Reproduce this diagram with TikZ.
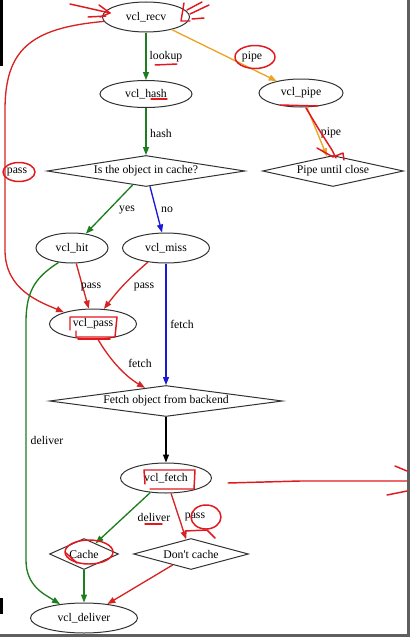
\documentclass[tikz,border=0pt]{standalone}
\usepackage{fontspec}
\setmainfont{Liberation Serif}[Ligatures=TeXOff]
\usetikzlibrary{shapes.geometric,arrows.meta}
\definecolor{cgreen}{RGB}{30,125,30}
\definecolor{corange}{RGB}{235,165,35}
\definecolor{cblue}{RGB}{25,25,215}
\definecolor{cred}{RGB}{215,35,35}
\definecolor{cannot}{RGB}{225,25,30}
\definecolor{outl}{RGB}{50,50,50}
\definecolor{framec}{RGB}{95,95,95}
\begin{document}
\begin{tikzpicture}[x=0.75pt,y=-0.75pt, font=\fontsize{8.8}{10}\selectfont,
  el/.style 2 args={draw=outl, line width=0.75pt, ellipse, inner sep=0pt,
     minimum width=#1*0.75pt, minimum height=#2*0.75pt},
  dm/.style n args={3}{draw=outl, line width=0.75pt, diamond, inner sep=0pt, aspect=#3,
     minimum width=#1*0.75pt, minimum height=#2*0.75pt},
  edge/.style={line width=1pt, -{Triangle[length=6pt,width=4.5pt]}},
  lbl/.style={inner sep=0pt},
  scrib/.style={cannot, line width=1.1pt, line cap=round, line join=round}]
\useasboundingbox (0,0) rectangle (412,639);
% frame
\fill[black] (0,0) rectangle (2.5,66);
\fill[black] (0,598) rectangle (3,614);
\draw[framec, line width=2pt] (408.5,0) -- (408.5,637);
\draw[framec, line width=2pt] (0,635.5) -- (409.5,635.5);

% nodes
\node[el={87}{30}] (recv) at (146,17) {vcl\_recv};
\node[el={92}{27}] (hash) at (146,94) {vcl\_hash};
\node[el={84}{28}] (pipe) at (301,93) {vcl\_pipe};
\node[dm={198}{31}{6.4}] (incache) at (146,171) {Is the object in cache?};
\node[dm={141}{31}{4.5}] (pipeclose) at (333,171) {Pipe until close};
\node[el={72}{30}] (hit) at (72,248) {vcl\_hit};
\node[el={87}{30}] (miss) at (166,248) {vcl\_miss};
\node[el={87}{30}] (pass) at (93,324) {vcl\_pass};
\node[dm={233}{31}{7.5}] (fetchd) at (166,401) {Fetch object from backend};
\node[el={91}{30}] (vfetch) at (166,478) {vcl\_fetch};
\node[dm={69}{31}{2.2}] (cache) at (84,554) {Cache};
\node[dm={115}{31}{3.7}] (dontcache) at (191,554) {Don't cache};
\node[el={107}{30}] (deliver) at (84,618) {vcl\_deliver};

% edges
\draw[edge, cgreen] (recv) -- (hash);
\draw[edge, corange] (recv) -- (pipe);
\draw[edge, corange] (pipe) -- (pipeclose);
\draw[edge, cgreen] (hash) -- (incache);
\draw[edge, cred] (recv.186) .. controls (30,28) and (5,50) .. (5,110) -- (5,250)
   .. controls (5,290) and (40,302) .. (pass.158);
\draw[edge, cgreen] (incache) -- (hit);
\draw[edge, cblue] (incache) -- (miss);
\draw[edge, cred] (hit) -- (pass);
\draw[edge, cred] (miss.218) to[bend right=6] (pass.54);
\draw[edge, cblue] (miss) -- (fetchd);
\draw[edge, cred] (pass.-72) .. controls (110,360) and (125,376) .. (fetchd.148);
\draw[edge, cgreen] (hit.227) .. controls (38,276) and (26,288) .. (26,322) -- (26,560)
   .. controls (26,586) and (44,594) .. (deliver.150);
\draw[edge, black] (fetchd) -- (vfetch);
\draw[edge, cgreen] (vfetch) -- (cache);
\draw[edge, cred] (vfetch) -- (dontcache);
\draw[edge, cgreen] (cache) -- (deliver);
\draw[edge, cred] (dontcache) -- (deliver);

% edge labels
\node[lbl] (l1) at (166,57) {lookup};
\node[lbl] (l2) at (252,57) {pipe};
\node[lbl] (l3) at (161,133) {hash};
\node[lbl] (l4) at (331,133) {pipe};
\node[lbl] (l5) at (17,172) {pass};
\node[lbl] (l6) at (127,210) {yes};
\node[lbl] (l7) at (167,210) {no};
\node[lbl] (l8) at (91,287) {pass};
\node[lbl] (l9) at (144,287) {pass};
\node[lbl] (l10) at (182,324) {fetch};
\node[lbl] (l11) at (140,363) {fetch};
\node[lbl] (l12) at (47,440) {deliver};
\node[lbl] (l13) at (154,517) {deliver};
\node[lbl] (l14) at (195,517) {pass};

% hand-drawn annotations
\draw[scrib] (70,4) -- (110,13);
\draw[scrib] (99,5) -- (110,13) -- (100,17);
\draw[scrib] (88,17) -- (106,16);
\draw[scrib] (184,3) -- (181,21) -- (190,21);
\draw[scrib] (187,10) -- (202,2);
\draw[scrib] (190,14) -- (209,5);
\draw[scrib] (192,19) -- (204,18);
\draw[scrib] (155,65) -- (177,64);
\draw[scrib] (255,57) ellipse [x radius=20, y radius=11.5];
\draw[scrib] (151,99) -- (167,99);
\draw[scrib] (280,105) -- (318,106);
\draw[scrib] (306,108) -- (318,128) -- (332,150) -- (336,158);
\draw[scrib] (317,148) -- (333,157) -- (343,153) -- (344,160);
\draw[scrib] (19,172) ellipse [x radius=16, y radius=9.5];
\draw[scrib] (70,330) -- (70,317) -- (117,317) -- (115,337) -- (76,337) -- (76,331);
\draw[scrib] (78,339) -- (110,339);
\draw[scrib] (145,484) -- (144,470) -- (195,470) -- (194,489) -- (150,489);
\draw[scrib] (145,524) -- (162,524);
\draw[scrib] (206,517) ellipse [x radius=15, y radius=12];
\draw[scrib] (185,531) -- (207,530) -- (215,538);
\draw[scrib] (89,552) ellipse [x radius=24, y radius=12];
\draw[scrib] (66,553) -- (77,563);
\draw[scrib] (228,483) -- (300,481) -- (407,481);
\draw[scrib] (395,466) -- (407,471);
\draw[scrib] (387,495) -- (407,491);
\end{tikzpicture}
\end{document}
